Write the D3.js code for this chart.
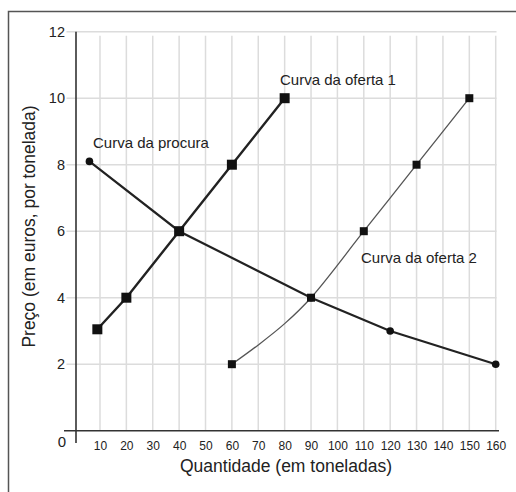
<!DOCTYPE html>
<html>
<head>
<meta charset="utf-8">
<script src="https://cdn.jsdelivr.net/npm/d3@7"></script>
<style>
  body { margin: 0; background: white; }
  svg { display: block; font-family: "Liberation Sans", Arial, sans-serif; }
</style>
</head>
<body>
<svg id="chart"></svg>
<script>
// data
var xTicks = [10, 20, 30, 40, 50, 60, 70, 80, 90, 100, 110, 120, 130, 140, 150, 160];
var yTicks = [2, 4, 6, 8, 10, 12];

var procuraQ = [6, 40, 90, 120, 160],
    procuraP = [8.1, 6, 4, 3, 2];

var oferta1Q = [9, 20, 40, 60, 80],
    oferta1P = [3.05, 4, 6, 8, 10];

var oferta2Q = [60, 70, 80, 90, 110, 130, 150],
    oferta2P = [2, 2.58, 3.22, 4, 6, 8, 10],
    oferta2Marks = [60, 90, 110, 130, 150];

var W = 516, H = 492;
var ink = "#222";

var svg = d3.select("#chart").attr("width", W).attr("height", H);

var x = d3.scaleLinear().domain([0, 160]).range([73.6, 495.7]),
    y = d3.scaleLinear().domain([0, 12]).range([430.7, 31.7]);

// frame (top + left only)
svg.append("path")
  .attr("d", "M8.5,492 V11.5 H516")
  .attr("fill", "none").attr("stroke", "#555").attr("stroke-width", 1.5);

// grid
var grid = svg.append("g").attr("stroke", "#dcdcdc").attr("stroke-width", 1.5);
grid.selectAll("line.v").data(xTicks).enter().append("line")
  .attr("class", "v")
  .attr("x1", d => x(d)).attr("x2", d => x(d))
  .attr("y1", y(12) + 4).attr("y2", y(0));
grid.selectAll("line.h").data(yTicks).enter().append("line")
  .attr("class", "h")
  .attr("x1", 66.5).attr("x2", 496.5)
  .attr("y1", d => y(d)).attr("y2", d => y(d));

// axes lines
svg.append("line").attr("x1", 64).attr("x2", 499).attr("y1", y(0)).attr("y2", y(0))
  .attr("stroke", "#333").attr("stroke-width", 1.6);
svg.append("line").attr("x1", 76).attr("x2", 76).attr("y1", y(12)).attr("y2", 443)
  .attr("stroke", "#333").attr("stroke-width", 1.6);

// tick labels
var xAxis = svg.append("g")
  .attr("transform", "translate(0," + y(0) + ")")
  .call(d3.axisBottom(x).tickValues(xTicks).tickSize(0).tickPadding(11));
xAxis.select(".domain").remove();
xAxis.selectAll("text").attr("font-size", 12).attr("fill", ink).attr("font-family", null);

var yAxis = svg.append("g")
  .attr("transform", "translate(66,0)")
  .call(d3.axisLeft(y).tickValues(yTicks).tickSize(0).tickPadding(1));
yAxis.select(".domain").remove();
yAxis.selectAll("text").attr("font-size", 14.5).attr("fill", ink).attr("font-family", null);

svg.append("text").attr("x", 66).attr("y", 447).attr("text-anchor", "end")
  .attr("font-size", 15).attr("fill", ink).text("0");

// lines
function series(qs, ps) { return qs.map((q, i) => [q, ps[i]]); }
var line = d3.line().x(d => x(d[0])).y(d => y(d[1]));

var procura = series(procuraQ, procuraP),
    oferta1 = series(oferta1Q, oferta1P),
    oferta2 = series(oferta2Q, oferta2P);

svg.append("path").datum(oferta2)
  .attr("d", line.curve(d3.curveCatmullRom.alpha(0.5)))
  .attr("fill", "none").attr("stroke", "#555").attr("stroke-width", 1.3);

svg.append("path").datum(procura)
  .attr("d", line.curve(d3.curveLinear))
  .attr("fill", "none").attr("stroke", ink).attr("stroke-width", 2.2);

svg.append("path").datum(oferta1)
  .attr("d", line.curve(d3.curveLinear))
  .attr("fill", "none").attr("stroke", ink).attr("stroke-width", 2.4);

// markers
svg.selectAll("circle.procura").data(procura).enter().append("circle")
  .attr("cx", d => x(d[0])).attr("cy", d => y(d[1])).attr("r", 3.8)
  .attr("fill", "#111");

var s2 = 8;
svg.selectAll("rect.o2").data(oferta2.filter(d => oferta2Marks.indexOf(d[0]) >= 0)).enter().append("rect")
  .attr("x", d => x(d[0]) - s2 / 2).attr("y", d => y(d[1]) - s2 / 2)
  .attr("width", s2).attr("height", s2).attr("fill", "#111");

var s1 = 10;
svg.selectAll("rect.o1").data(oferta1).enter().append("rect")
  .attr("x", d => x(d[0]) - s1 / 2).attr("y", d => y(d[1]) - s1 / 2)
  .attr("width", s1).attr("height", s1).attr("fill", "#111");

// curve labels
var labels = svg.append("g").attr("font-size", 15).attr("fill", ink);
labels.append("text").attr("x", 280).attr("y", 84.5).text("Curva da oferta 1");
labels.append("text").attr("x", 93).attr("y", 148).text("Curva da procura");
labels.append("text").attr("x", 361).attr("y", 262.5).text("Curva da oferta 2");

// axis titles
svg.append("text").attr("x", 286).attr("y", 472).attr("text-anchor", "middle")
  .attr("font-size", 17.5).attr("fill", ink).text("Quantidade (em toneladas)");
svg.append("text").attr("transform", "translate(35,226.5) rotate(-90)")
  .attr("text-anchor", "middle").attr("font-size", 17.5).attr("fill", ink)
  .text("Preço (em euros, por tonelada)");
</script>
</body>
</html>
